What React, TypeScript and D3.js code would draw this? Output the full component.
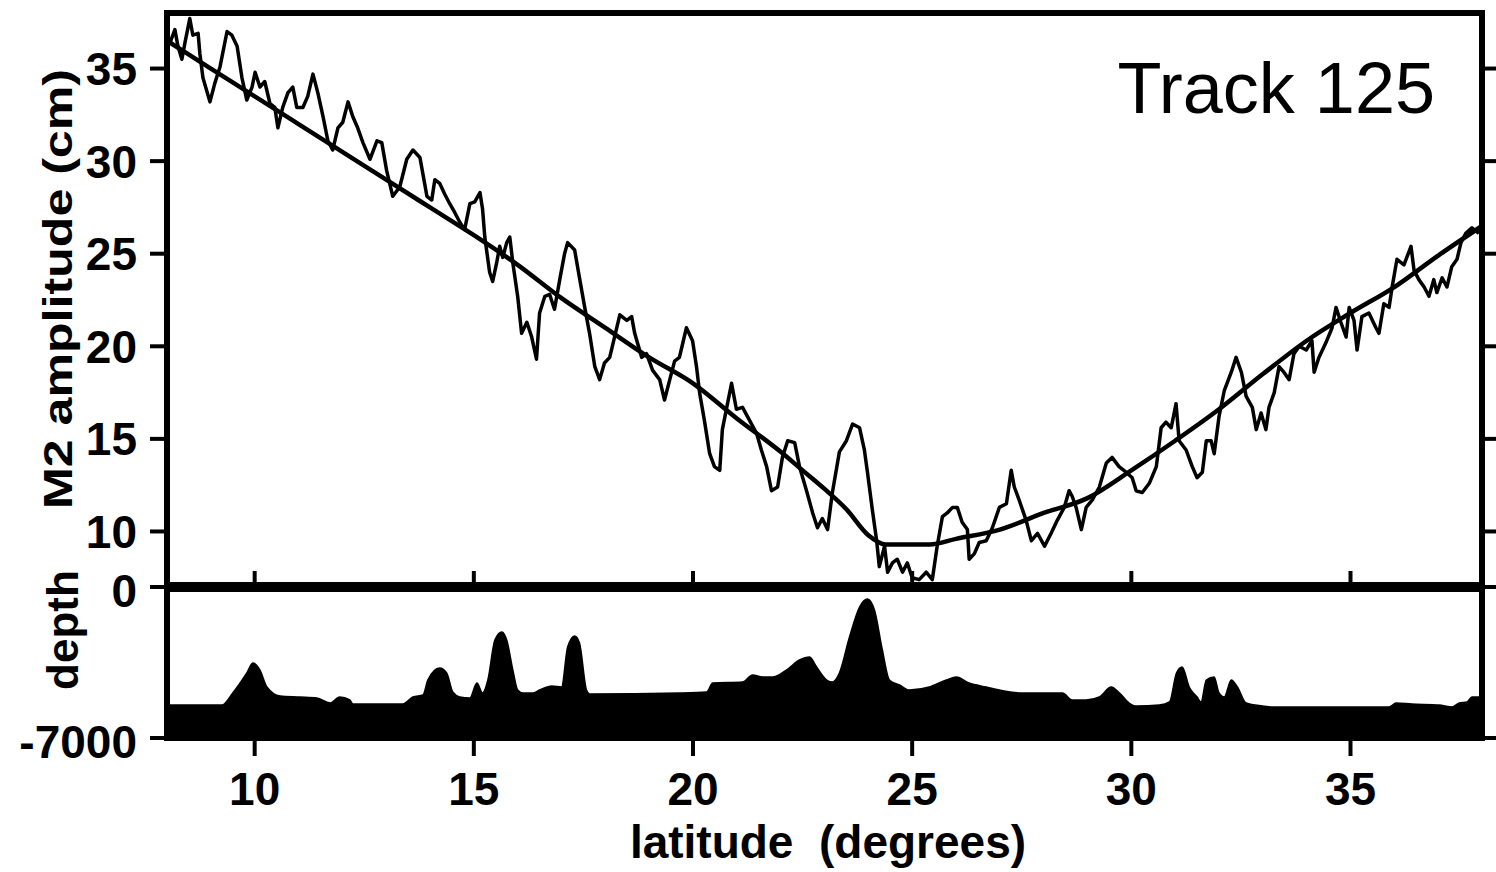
import React from "react";
import * as d3 from "d3";

// ---------- data ----------
const obsLat = [8.0, 8.07, 8.18, 8.25, 8.34, 8.41, 8.52, 8.59, 8.71, 8.75, 8.82, 8.98, 9.09, 9.21, 9.37, 9.48, 9.6, 9.71, 9.82, 9.94, 10.01, 10.12, 10.23, 10.35, 10.46, 10.53, 10.64, 10.76, 10.87, 10.96, 11.1, 11.21, 11.33, 11.44, 11.56, 11.67, 11.78, 11.9, 12.01, 12.13, 12.24, 12.35, 12.47, 12.63, 12.79, 12.9, 13.01, 13.15, 13.31, 13.47, 13.61, 13.77, 13.93, 14.04, 14.11, 14.22, 14.34, 14.45, 14.57, 14.68, 14.79, 14.91, 15.02, 15.14, 15.2, 15.25, 15.36, 15.43, 15.52, 15.59, 15.66, 15.75, 15.82, 15.89, 16.0, 16.09, 16.21, 16.32, 16.43, 16.5, 16.62, 16.73, 16.84, 16.96, 17.07, 17.14, 17.3, 17.41, 17.53, 17.64, 17.76, 17.87, 17.98, 18.1, 18.21, 18.33, 18.49, 18.6, 18.67, 18.83, 18.94, 19.08, 19.24, 19.35, 19.47, 19.58, 19.69, 19.85, 19.99, 20.08, 20.15, 20.26, 20.38, 20.49, 20.61, 20.67, 20.77, 20.88, 20.99, 21.13, 21.29, 21.45, 21.56, 21.68, 21.79, 21.93, 22.04, 22.16, 22.32, 22.43, 22.59, 22.73, 22.84, 22.95, 23.07, 23.18, 23.34, 23.5, 23.64, 23.8, 23.91, 23.98, 24.09, 24.19, 24.25, 24.37, 24.44, 24.55, 24.66, 24.78, 24.89, 25.0, 25.16, 25.32, 25.46, 25.57, 25.69, 25.8, 25.92, 26.03, 26.14, 26.26, 26.3, 26.42, 26.53, 26.69, 26.83, 26.99, 27.15, 27.26, 27.33, 27.44, 27.6, 27.72, 27.86, 28.02, 28.17, 28.31, 28.47, 28.58, 28.65, 28.74, 28.86, 28.97, 29.11, 29.27, 29.43, 29.56, 29.72, 29.88, 30.02, 30.11, 30.25, 30.41, 30.57, 30.68, 30.79, 30.91, 31.02, 31.09, 31.25, 31.39, 31.5, 31.62, 31.71, 31.82, 31.89, 32.0, 32.12, 32.28, 32.39, 32.51, 32.62, 32.76, 32.85, 32.96, 33.07, 33.14, 33.26, 33.37, 33.48, 33.6, 33.71, 33.83, 33.99, 34.12, 34.17, 34.28, 34.44, 34.58, 34.67, 34.78, 34.9, 34.97, 35.08, 35.15, 35.26, 35.42, 35.58, 35.65, 35.76, 35.88, 35.95, 36.06, 36.22, 36.38, 36.45, 36.56, 36.68, 36.79, 36.9, 36.97, 37.09, 37.2, 37.31, 37.43, 37.52, 37.63, 37.77, 37.93];
const obsAmp = [36.8, 36.4, 37.1, 36.2, 35.5, 36.4, 37.7, 36.8, 36.9, 35.8, 34.5, 33.2, 34.2, 35.1, 37.0, 36.8, 36.2, 34.5, 33.3, 34.0, 34.8, 34.0, 34.3, 33.1, 32.9, 31.8, 32.9, 33.7, 34.0, 32.9, 32.9, 33.5, 34.7, 33.7, 32.4, 31.1, 30.6, 31.8, 32.1, 33.2, 32.4, 31.8, 31.0, 30.1, 31.1, 31.0, 29.5, 28.1, 28.6, 30.1, 30.6, 30.2, 28.1, 27.9, 29.0, 28.8, 28.2, 27.7, 27.2, 26.7, 26.3, 27.7, 27.8, 28.3, 27.4, 25.9, 24.0, 23.5, 24.5, 25.4, 24.8, 25.6, 25.9, 24.5, 22.7, 20.7, 21.3, 20.5, 19.3, 21.8, 22.7, 22.8, 22.0, 23.6, 25.0, 25.6, 25.2, 23.7, 22.1, 20.7, 18.9, 18.2, 19.1, 19.4, 20.5, 21.7, 21.4, 21.6, 20.7, 19.4, 19.6, 18.7, 18.2, 17.1, 18.2, 19.2, 19.4, 21.0, 20.3, 18.9, 17.5, 16.0, 14.2, 13.5, 13.3, 15.5, 16.7, 18.0, 16.6, 16.7, 16.0, 15.3, 14.4, 13.5, 12.2, 12.4, 14.0, 14.9, 14.8, 13.5, 12.2, 11.0, 10.2, 10.7, 10.1, 12.1, 14.3, 14.9, 15.8, 15.6, 14.4, 13.2, 11.2, 9.5, 8.1, 9.2, 7.8, 8.3, 8.5, 7.8, 8.3, 7.5, 7.4, 7.8, 7.4, 9.2, 10.8, 11.0, 11.3, 11.3, 10.5, 10.1, 8.5, 8.8, 9.4, 9.5, 10.2, 11.3, 11.5, 13.3, 12.4, 11.7, 10.6, 9.5, 9.9, 9.2, 9.9, 10.6, 11.3, 12.2, 11.9, 11.3, 10.1, 11.3, 11.7, 12.4, 13.7, 14.0, 13.5, 13.2, 12.9, 12.2, 12.1, 12.6, 13.5, 15.6, 15.9, 15.6, 16.9, 14.9, 14.4, 13.5, 12.9, 13.2, 14.9, 14.9, 14.2, 16.2, 17.6, 18.6, 19.4, 18.6, 17.3, 16.7, 15.5, 16.4, 15.5, 16.7, 17.5, 18.9, 18.6, 18.2, 19.6, 20.0, 19.8, 20.3, 18.6, 19.4, 20.2, 21.0, 22.1, 21.3, 20.5, 22.1, 21.4, 19.8, 21.6, 21.8, 21.0, 20.7, 22.3, 22.1, 23.2, 24.7, 24.4, 25.4, 24.1, 23.6, 23.2, 22.7, 23.6, 22.9, 23.7, 23.2, 24.3, 24.7, 25.6, 26.1, 26.4, 26.1];

const modelLat = [8, 9, 10, 11, 12, 13, 14, 15, 16, 17, 18, 19, 20, 21, 22, 22.5, 23, 23.5, 24, 24.4, 25, 25.4, 26, 27, 28, 29, 30, 31, 32, 33, 34, 35, 36, 37, 38];
const modelAmp = [36.5, 35.0, 33.5, 32.0, 30.5, 29.0, 27.5, 26.0, 24.4, 22.6, 21.0, 19.4, 18.0, 16.1, 14.3, 13.3, 12.3, 11.2, 9.8, 9.3, 9.3, 9.3, 9.6, 10.1, 11.0, 11.8, 13.3, 14.9, 16.6, 18.5, 20.3, 21.8, 23.2, 24.9, 26.5];

const depthLat = [8.0, 9.25, 9.5, 9.82, 9.96, 10.12, 10.28, 10.58, 11.03, 11.42, 11.72, 11.94, 12.17, 12.24, 13.38, 13.61, 13.84, 13.95, 14.22, 14.38, 14.52, 14.68, 14.91, 15.07, 15.2, 15.32, 15.48, 15.64, 15.75, 15.89, 16.0, 16.12, 16.34, 16.5, 16.78, 17.0, 17.14, 17.3, 17.41, 17.57, 17.64, 19.69, 20.31, 20.45, 21.13, 21.36, 21.59, 21.82, 22.13, 22.43, 22.66, 22.82, 23.05, 23.18, 23.34, 23.57, 23.8, 23.98, 24.14, 24.32, 24.48, 24.71, 24.94, 25.39, 25.78, 26.01, 26.3, 26.69, 26.99, 27.51, 28.43, 28.65, 28.97, 29.27, 29.54, 29.73, 29.95, 30.11, 30.64, 30.87, 31.03, 31.16, 31.32, 31.5, 31.59, 31.71, 31.89, 32.0, 32.12, 32.28, 32.42, 32.62, 32.99, 33.21, 35.88, 36.04, 36.4, 37.02, 37.32, 37.48, 37.66, 37.77, 38.0];
const depthVal = [-5470, -5470, -4914, -3987, -3523, -3848, -4636, -5053, -5100, -5146, -5378, -5100, -5239, -5424, -5424, -5100, -5007, -4311, -3755, -3987, -4868, -5100, -5146, -4451, -4914, -4311, -2457, -2086, -2457, -3848, -4775, -4914, -4914, -4775, -4590, -4636, -2782, -2272, -2596, -4775, -4960, -4914, -4868, -4451, -4404, -4080, -4172, -4172, -3848, -3384, -3245, -3709, -4311, -4404, -3987, -2318, -927, -556, -1066, -2921, -4311, -4543, -4775, -4636, -4311, -4172, -4451, -4636, -4775, -4914, -4914, -5239, -5239, -5100, -4636, -4914, -5378, -5517, -5470, -5331, -3987, -3709, -4636, -5100, -5331, -4311, -4172, -4914, -5100, -4311, -4636, -5378, -5517, -5563, -5563, -5378, -5424, -5470, -5563, -5378, -5331, -5100, -5100];

const latTicks = [10, 15, 20, 25, 30, 35];
const ampTicks = [10, 15, 20, 25, 30, 35];
const depthTicks = [0, -7000];

const FONT = "'Liberation Sans', Arial, Helvetica, sans-serif";

export default function App() {
  const W = 1496, H = 872;
  const left = 167, right = 1482;
  const topY = 13, midY = 587, botY = 738;

  const x = d3.scaleLinear().domain([8, 38]).range([left, right]);
  const yA = d3.scaleLinear().domain([7, 38]).range([midY, topY]);
  const yD = d3.scaleLinear().domain([-7000, 0]).range([botY, midY]);

  const obs = obsLat.map((l, i) => [l, obsAmp[i]] as [number, number]);
  const model = modelLat.map((l, i) => [l, modelAmp[i]] as [number, number]);
  const depth = depthLat.map((l, i) => [l, depthVal[i]] as [number, number]);

  const lineA = d3.line<[number, number]>().x(d => x(d[0])).y(d => yA(d[1]));
  const lineM = d3.line<[number, number]>().x(d => x(d[0])).y(d => yA(d[1])).curve(d3.curveMonotoneX);
  const areaD = d3.area<[number, number]>().x(d => x(d[0])).y0(yD(-7000)).y1(d => yD(d[1])).curve(d3.curveMonotoneX);

  return (
    <svg width={W} height={H} style={{ position: "absolute", left: 0, top: 0, background: "#fff" }}
      fontFamily={FONT}>
      <rect x={0} y={0} width={W} height={H} fill="#fff" />
      <defs>
        <clipPath id="topClip">
          <rect x={left} y={topY} width={right - left} height={midY - topY} />
        </clipPath>
      </defs>

      {/* depth area */}
      <path d={areaD(depth) || ""} fill="#000" stroke="#000" strokeWidth={1.5} />

      {/* top panel lines */}
      <g clipPath="url(#topClip)">
        <path d={lineM(model) || ""} fill="none" stroke="#000" strokeWidth={4.5} strokeLinejoin="round" />
        <path d={lineA(obs) || ""} fill="none" stroke="#000" strokeWidth={3.5} strokeLinejoin="round" />
      </g>

      {/* frames */}
      <rect x={left} y={topY} width={right - left} height={midY - topY} fill="none" stroke="#000" strokeWidth={6} />
      <rect x={left} y={midY} width={right - left} height={botY - midY} fill="none" stroke="#000" strokeWidth={6} />
      <line x1={left - 3} x2={right + 3} y1={midY} y2={midY} stroke="#000" strokeWidth={10} />

      {/* amplitude ticks left/right */}
      {ampTicks.map(t => (
        <g key={"a" + t}>
          <line x1={left - 17} x2={left} y1={yA(t)} y2={yA(t)} stroke="#000" strokeWidth={4} />
          <line x1={right} x2={right + 17} y1={yA(t)} y2={yA(t)} stroke="#000" strokeWidth={4} />
          <text x={137} y={yA(t)} dy="0.36em" textAnchor="end" fontSize={46} fontWeight="bold">{t}</text>
        </g>
      ))}

      {/* depth ticks */}
      {depthTicks.map(t => (
        <g key={"d" + t}>
          <line x1={left - 17} x2={left} y1={yD(t)} y2={yD(t)} stroke="#000" strokeWidth={4} />
          <line x1={right} x2={right + 17} y1={yD(t)} y2={yD(t)} stroke="#000" strokeWidth={4} />
          <text x={137} y={yD(t) + 3} dy="0.36em" textAnchor="end" fontSize={46} fontWeight="bold">{t}</text>
        </g>
      ))}

      {/* latitude ticks */}
      {latTicks.map(t => (
        <g key={"l" + t}>
          <line x1={x(t)} x2={x(t)} y1={midY - 16} y2={midY} stroke="#000" strokeWidth={4} />
          <line x1={x(t)} x2={x(t)} y1={botY} y2={botY + 18} stroke="#000" strokeWidth={4} />
          <text x={x(t)} y={805} textAnchor="middle" fontSize={46} fontWeight="bold">{t}</text>
        </g>
      ))}

      {/* titles */}
      <text x={828} y={858} textAnchor="middle" fontSize={46} fontWeight="bold">latitude&#160;&#160;(degrees)</text>
      <text transform={`translate(72,289) rotate(-90)`} textAnchor="middle" fontSize={40} fontWeight="bold"
        textLength={440} lengthAdjust="spacingAndGlyphs">M2 amplitude (cm)</text>
      <text transform={`translate(78,630) rotate(-90)`} textAnchor="middle" fontSize={44} fontWeight="bold">depth</text>
      <text x={1435} y={113} textAnchor="end" fontSize={72}>Track 125</text>
    </svg>
  );
}
